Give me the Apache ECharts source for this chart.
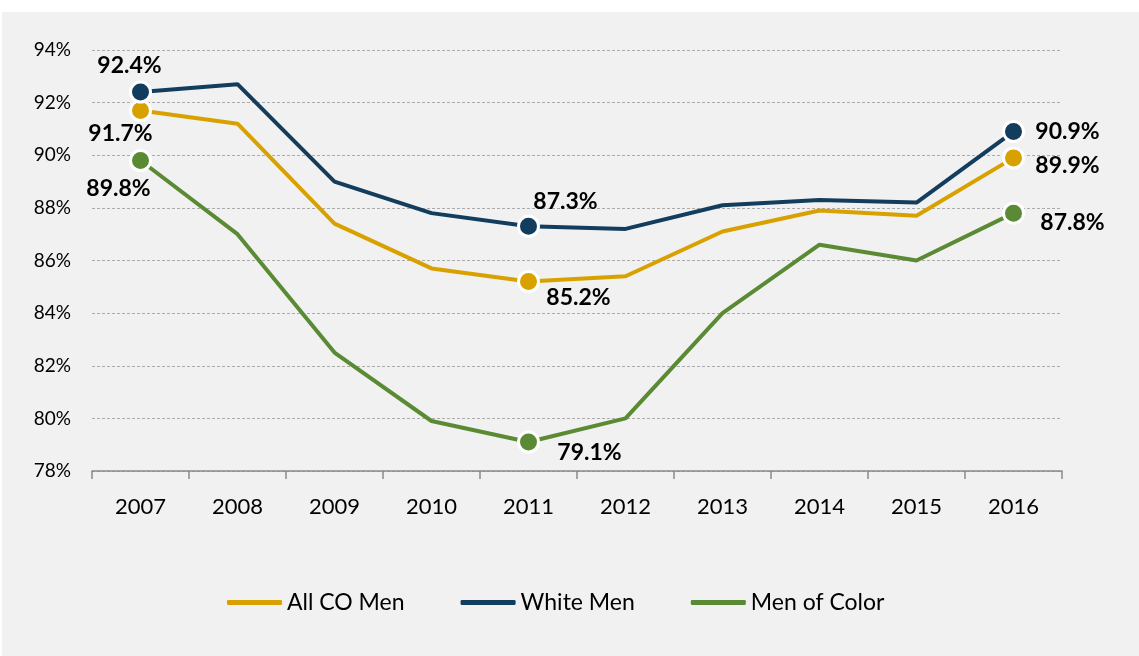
<!DOCTYPE html>
<html>
<head>
<meta charset="utf-8">
<title>CO Men</title>
<script src="https://cdn.jsdelivr.net/npm/echarts@6/dist/echarts.min.js"></script>
<style>
	html, body { margin: 0; padding: 0; background: #ffffff; }
	#main { position: absolute; left: 2px; top: 12px; width: 1137px; height: 644px; }
</style>
</head>
<body>
<div id="main"></div>
<script>
var years = ['2007', '2008', '2009', '2010', '2011', '2012', '2013', '2014', '2015', '2016'];
var allCoMen = [91.7, 91.2, 87.4, 85.7, 85.2, 85.4, 87.1, 87.9, 87.7, 89.9];
var whiteMen = [92.4, 92.7, 89.0, 87.8, 87.3, 87.2, 88.1, 88.3, 88.2, 90.9];
var menOfColor = [89.8, 87.0, 82.5, 79.9, 79.1, 80.0, 84.0, 86.6, 86.0, 87.8];
var markedYears = ['2007', '2011', '2016'];

// where each marked label sits relative to its point
var labelOffsets = {
	'All CO Men': { '2007': [-20, 23], '2011': [50, 16], '2016': [54, 8] },
	'White Men': { '2007': [-11, -27], '2011': [37, -25], '2016': [54, 0] },
	'Men of Color': { '2007': [-22, 28], '2011': [61, 11], '2016': [59, 9] }
};

var font = 'Lato, "Open Sans", sans-serif';

function buildData(name, values) {
	return values.map(function (v, i) {
		if (markedYears.indexOf(years[i]) < 0) {
			return { value: v, symbolSize: 0 };
		}
		return {
			value: v,
			symbolSize: 20,
			itemStyle: { borderColor: '#ffffff', borderWidth: 3 },
			label: {
				show: true,
				position: 'inside',
				offset: labelOffsets[name][years[i]],
				formatter: '{c}%',
				color: '#000000',
				fontFamily: font,
				fontWeight: 'bold',
				fontSize: 23
			}
		};
	});
}

function makeSeries(name, values, color) {
	return {
		name: name,
		type: 'line',
		symbol: 'circle',
		showAllSymbol: true,
		color: color,
		lineStyle: { width: 4, color: color },
		itemStyle: { color: color },
		emphasis: { disabled: true },
		animation: false,
		data: buildData(name, values)
	};
}

var myChart = echarts.init(document.getElementById('main'));
var option = {
	backgroundColor: '#f1f1f1',
	animation: false,
	grid: {
		left: 90,
		right: 77,
		top: 38,
		bottom: 185
	},
	legend: {
		left: 220,
		top: 574,
		icon: 'roundRect',
		itemWidth: 55,
		itemHeight: 5,
		itemGap: 56,
		textStyle: { color: '#000000', fontFamily: font, fontSize: 23 },
		data: ['All CO Men', 'White Men', 'Men of Color']
	},
	xAxis: {
		type: 'category',
		data: years,
		boundaryGap: true,
		axisLine: { lineStyle: { color: '#898989', width: 1.5 } },
		axisTick: { show: true, length: 8, lineStyle: { color: '#898989', width: 1.5 } },
		axisLabel: { color: '#000000', fontFamily: font, fontSize: 22, margin: 25 },
		splitLine: { show: false }
	},
	yAxis: {
		type: 'value',
		min: 78,
		max: 94,
		interval: 2,
		axisLine: { show: false },
		axisTick: { show: false },
		axisLabel: { formatter: '{value}%', color: '#000000', fontFamily: font, fontSize: 19, margin: 21 },
		splitLine: { lineStyle: { color: '#ababab', type: [3, 2], width: 1 } }
	},
	series: [
		makeSeries('All CO Men', allCoMen, '#d9a100'),
		makeSeries('White Men', whiteMen, '#123d5d'),
		makeSeries('Men of Color', menOfColor, '#5a8a33')
	]
};
myChart.setOption(option);
</script>
</body>
</html>
